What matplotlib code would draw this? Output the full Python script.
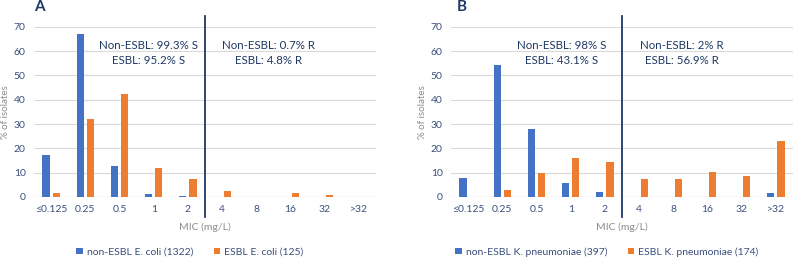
import matplotlib.pyplot as plt
import numpy as np

plt.rcParams['font.family'] = ['Lato', 'DejaVu Sans']

mic = ['≤0.125', '0.25', '0.5', '1', '2', '4', '8', '16', '32', '>32']

# panel A: E. coli
ecoli_non = [17.3, 66.8, 12.8, 1.4, 0.5, 0.2, 0, 0, 0, 0]
ecoli_esbl = [1.6, 32.0, 42.4, 12.0, 7.2, 2.4, 0, 1.6, 0.8, 0]
# panel B: K. pneumoniae
kp_non = [7.7, 54.2, 28.0, 5.9, 2.0, 0.2, 0, 0, 0.2, 1.5]
kp_esbl = [0, 2.9, 9.7, 16.0, 14.3, 7.4, 7.4, 10.3, 8.5, 22.9]

panels = [
    ('A', ecoli_non, ecoli_esbl, 'non-ESBL E. coli (1322)', 'ESBL E. coli (125)',
     ('Non-ESBL: 99.3% S\nESBL: 95.2% S', 'Non-ESBL: 0.7% R\nESBL: 4.8% R'), (2.84, 6.37)),
    ('B', kp_non, kp_esbl, 'non-ESBL K. pneumoniae (397)', 'ESBL K. pneumoniae (174)',
     ('Non-ESBL: 98% S\nESBL: 43.1% S', 'Non-ESBL: 2% R\nESBL: 56.9% R'), (2.73, 6.25)),
]

blue = '#4472C4'
orange = '#ED7D31'
navy = '#1F3864'
tickc = '#3B4F7C'
grayc = '#8C8C8C'

fig = plt.figure(figsize=(7.96, 2.59), dpi=100)
lefts = [34 / 796, 451 / 796]
centers = [190 / 796, 607 / 796]

for i, (letter, non, esbl, lab1, lab2, notes, xs) in enumerate(panels):
    ax = fig.add_axes([lefts[i], 62 / 259, 342 / 796, 170.3 / 259])
    x = np.arange(len(mic))
    b1 = ax.bar(x - 0.15, non, width=0.21, color=blue, label=lab1, zorder=3)
    b2 = ax.bar(x + 0.15, esbl, width=0.21, color=orange, label=lab2, zorder=3)
    ax.set_xlim(-0.5, len(mic) - 0.5)
    ax.set_ylim(0, 70)
    ax.set_yticks(range(0, 71, 10))
    ax.set_xticks(x)
    ax.set_xticklabels(mic)
    ax.grid(axis='y', color='#D9D9D9', linewidth=0.8, zorder=0)
    for s in ax.spines.values():
        s.set_visible(False)
    ax.axhline(0, color='#D9D9D9', linewidth=0.9, zorder=1)
    ax.tick_params(length=0, labelsize=7.5, colors=tickc, pad=6)
    ax.set_xlabel('MIC (mg/L)', fontsize=7.5, color=grayc, labelpad=6)
    ax.set_ylabel('% of isolates', fontsize=7, color=grayc, labelpad=3)
    ax.plot([4.5, 4.5], [-8.2, 74.6], color=navy, linewidth=1.3, clip_on=False, zorder=4)
    for note, xn in zip(notes, xs):
        ax.text(xn, 59.2, note, ha='center', va='center', fontsize=8.3,
                color=navy, linespacing=1.45)
    fig.text(lefts[i] + (0 if i == 0 else 6 / 796), 252 / 259, letter,
             fontsize=11, fontweight='bold', color=navy, ha='left', va='center')
    fig.legend(handles=[b1, b2], loc='center', bbox_to_anchor=(centers[i], 7 / 259),
               ncol=2, frameon=False, fontsize=7.5, handlelength=0.6, handleheight=0.6,
               handletextpad=0.4, columnspacing=2.0, labelcolor=tickc)

fig.savefig('out.png', dpi=100)
